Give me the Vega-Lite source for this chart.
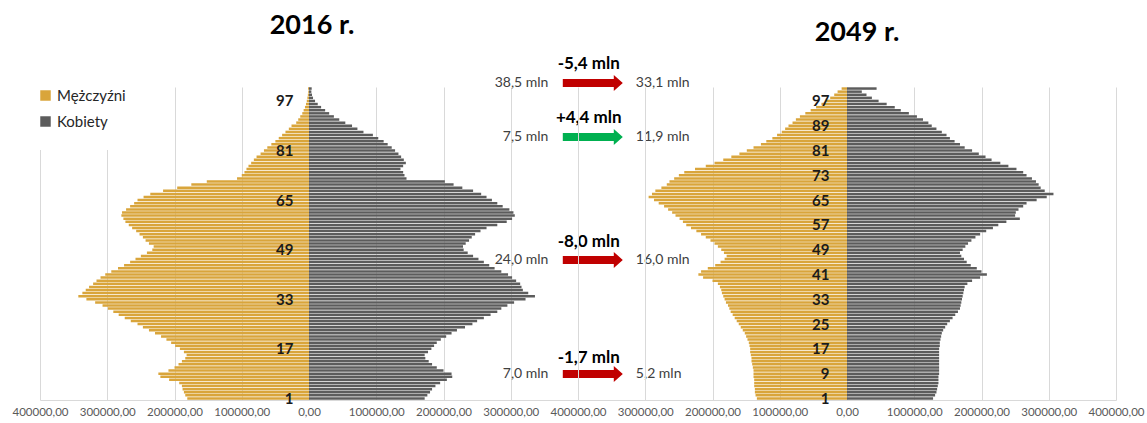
{
  "$schema": "https://vega.github.io/schema/vega-lite/v6.json",
  "padding": {"left": 12, "top": 12, "right": 2, "bottom": 0},
  "background": "white",
  "spacing": 0,
  "bounds": "flush",
  "config": {"view": {"stroke": null}, "font": "Lato"},
  "resolve": {"legend": {"color": "independent"}},
  "datasets": {
    "pyramida": [
      {"rok":"2016 r.","wiek":1,"Mężczyźni":-181000,"Kobiety":172000},
      {"rok":"2016 r.","wiek":2,"Mężczyźni":-184000,"Kobiety":176000},
      {"rok":"2016 r.","wiek":3,"Mężczyźni":-186000,"Kobiety":180000},
      {"rok":"2016 r.","wiek":4,"Mężczyźni":-188000,"Kobiety":183000},
      {"rok":"2016 r.","wiek":5,"Mężczyźni":-189000,"Kobiety":188000},
      {"rok":"2016 r.","wiek":6,"Mężczyźni":-193000,"Kobiety":195000},
      {"rok":"2016 r.","wiek":7,"Mężczyźni":-208000,"Kobiety":205000},
      {"rok":"2016 r.","wiek":8,"Mężczyźni":-221000,"Kobiety":213000},
      {"rok":"2016 r.","wiek":9,"Mężczyźni":-224000,"Kobiety":212000},
      {"rok":"2016 r.","wiek":10,"Mężczyźni":-209000,"Kobiety":200000},
      {"rok":"2016 r.","wiek":11,"Mężczyźni":-200000,"Kobiety":190000},
      {"rok":"2016 r.","wiek":12,"Mężczyźni":-194000,"Kobiety":183000},
      {"rok":"2016 r.","wiek":13,"Mężczyźni":-189000,"Kobiety":178000},
      {"rok":"2016 r.","wiek":14,"Mężczyźni":-184000,"Kobiety":173000},
      {"rok":"2016 r.","wiek":15,"Mężczyźni":-182000,"Kobiety":172000},
      {"rok":"2016 r.","wiek":16,"Mężczyźni":-186000,"Kobiety":177000},
      {"rok":"2016 r.","wiek":17,"Mężczyźni":-192000,"Kobiety":182000},
      {"rok":"2016 r.","wiek":18,"Mężczyźni":-199000,"Kobiety":186000},
      {"rok":"2016 r.","wiek":19,"Mężczyźni":-205000,"Kobiety":190000},
      {"rok":"2016 r.","wiek":20,"Mężczyźni":-212000,"Kobiety":196000},
      {"rok":"2016 r.","wiek":21,"Mężczyźni":-220000,"Kobiety":204000},
      {"rok":"2016 r.","wiek":22,"Mężczyźni":-229000,"Kobiety":212000},
      {"rok":"2016 r.","wiek":23,"Mężczyźni":-238000,"Kobiety":220000},
      {"rok":"2016 r.","wiek":24,"Mężczyźni":-247000,"Kobiety":232000},
      {"rok":"2016 r.","wiek":25,"Mężczyźni":-255000,"Kobiety":243000},
      {"rok":"2016 r.","wiek":26,"Mężczyźni":-265000,"Kobiety":250000},
      {"rok":"2016 r.","wiek":27,"Mężczyźni":-274000,"Kobiety":260000},
      {"rok":"2016 r.","wiek":28,"Mężczyźni":-283000,"Kobiety":270000},
      {"rok":"2016 r.","wiek":29,"Mężczyźni":-291000,"Kobiety":280000},
      {"rok":"2016 r.","wiek":30,"Mężczyźni":-299000,"Kobiety":286000},
      {"rok":"2016 r.","wiek":31,"Mężczyźni":-307000,"Kobiety":295000},
      {"rok":"2016 r.","wiek":32,"Mężczyźni":-318000,"Kobiety":305000},
      {"rok":"2016 r.","wiek":33,"Mężczyźni":-331000,"Kobiety":322000},
      {"rok":"2016 r.","wiek":34,"Mężczyźni":-343000,"Kobiety":336000},
      {"rok":"2016 r.","wiek":35,"Mężczyźni":-337000,"Kobiety":326000},
      {"rok":"2016 r.","wiek":36,"Mężczyźni":-332000,"Kobiety":318000},
      {"rok":"2016 r.","wiek":37,"Mężczyźni":-327000,"Kobiety":316000},
      {"rok":"2016 r.","wiek":38,"Mężczyźni":-321000,"Kobiety":314000},
      {"rok":"2016 r.","wiek":39,"Mężczyźni":-316000,"Kobiety":308000},
      {"rok":"2016 r.","wiek":40,"Mężczyźni":-310000,"Kobiety":302000},
      {"rok":"2016 r.","wiek":41,"Mężczyźni":-303000,"Kobiety":296000},
      {"rok":"2016 r.","wiek":42,"Mężczyźni":-294000,"Kobiety":286000},
      {"rok":"2016 r.","wiek":43,"Mężczyźni":-284000,"Kobiety":276000},
      {"rok":"2016 r.","wiek":44,"Mężczyźni":-275000,"Kobiety":268000},
      {"rok":"2016 r.","wiek":45,"Mężczyźni":-266000,"Kobiety":260000},
      {"rok":"2016 r.","wiek":46,"Mężczyźni":-258000,"Kobiety":252000},
      {"rok":"2016 r.","wiek":47,"Mężczyźni":-250000,"Kobiety":244000},
      {"rok":"2016 r.","wiek":48,"Mężczyźni":-241000,"Kobiety":236000},
      {"rok":"2016 r.","wiek":49,"Mężczyźni":-233000,"Kobiety":230000},
      {"rok":"2016 r.","wiek":50,"Mężczyźni":-231000,"Kobiety":229000},
      {"rok":"2016 r.","wiek":51,"Mężczyźni":-238000,"Kobiety":233000},
      {"rok":"2016 r.","wiek":52,"Mężczyźni":-243000,"Kobiety":238000},
      {"rok":"2016 r.","wiek":53,"Mężczyźni":-247000,"Kobiety":242000},
      {"rok":"2016 r.","wiek":54,"Mężczyźni":-252000,"Kobiety":247000},
      {"rok":"2016 r.","wiek":55,"Mężczyźni":-257000,"Kobiety":255000},
      {"rok":"2016 r.","wiek":56,"Mężczyźni":-263000,"Kobiety":264000},
      {"rok":"2016 r.","wiek":57,"Mężczyźni":-268000,"Kobiety":280000},
      {"rok":"2016 r.","wiek":58,"Mężczyźni":-273000,"Kobiety":294000},
      {"rok":"2016 r.","wiek":59,"Mężczyźni":-276000,"Kobiety":302000},
      {"rok":"2016 r.","wiek":60,"Mężczyźni":-279000,"Kobiety":306000},
      {"rok":"2016 r.","wiek":61,"Mężczyźni":-278000,"Kobiety":304000},
      {"rok":"2016 r.","wiek":62,"Mężczyźni":-272000,"Kobiety":298000},
      {"rok":"2016 r.","wiek":63,"Mężczyźni":-266000,"Kobiety":288000},
      {"rok":"2016 r.","wiek":64,"Mężczyźni":-260000,"Kobiety":280000},
      {"rok":"2016 r.","wiek":65,"Mężczyźni":-255000,"Kobiety":272000},
      {"rok":"2016 r.","wiek":66,"Mężczyźni":-246000,"Kobiety":264000},
      {"rok":"2016 r.","wiek":67,"Mężczyźni":-236000,"Kobiety":256000},
      {"rok":"2016 r.","wiek":68,"Mężczyźni":-217000,"Kobiety":244000},
      {"rok":"2016 r.","wiek":69,"Mężczyźni":-196000,"Kobiety":228000},
      {"rok":"2016 r.","wiek":70,"Mężczyźni":-175000,"Kobiety":215000},
      {"rok":"2016 r.","wiek":71,"Mężczyźni":-152000,"Kobiety":202000},
      {"rok":"2016 r.","wiek":72,"Mężczyźni":-107000,"Kobiety":145000},
      {"rok":"2016 r.","wiek":73,"Mężczyźni":-100000,"Kobiety":142000},
      {"rok":"2016 r.","wiek":74,"Mężczyźni":-96000,"Kobiety":140000},
      {"rok":"2016 r.","wiek":75,"Mężczyźni":-93000,"Kobiety":136000},
      {"rok":"2016 r.","wiek":76,"Mężczyźni":-90000,"Kobiety":140000},
      {"rok":"2016 r.","wiek":77,"Mężczyźni":-86000,"Kobiety":144000},
      {"rok":"2016 r.","wiek":78,"Mężczyźni":-82000,"Kobiety":141000},
      {"rok":"2016 r.","wiek":79,"Mężczyźni":-78000,"Kobiety":137000},
      {"rok":"2016 r.","wiek":80,"Mężczyźni":-72000,"Kobiety":133000},
      {"rok":"2016 r.","wiek":81,"Mężczyźni":-67000,"Kobiety":128000},
      {"rok":"2016 r.","wiek":82,"Mężczyźni":-62000,"Kobiety":123000},
      {"rok":"2016 r.","wiek":83,"Mężczyźni":-56000,"Kobiety":117000},
      {"rok":"2016 r.","wiek":84,"Mężczyźni":-50000,"Kobiety":111000},
      {"rok":"2016 r.","wiek":85,"Mężczyźni":-45000,"Kobiety":103000},
      {"rok":"2016 r.","wiek":86,"Mężczyźni":-40000,"Kobiety":95000},
      {"rok":"2016 r.","wiek":87,"Mężczyźni":-35000,"Kobiety":81000},
      {"rok":"2016 r.","wiek":88,"Mężczyźni":-30000,"Kobiety":72000},
      {"rok":"2016 r.","wiek":89,"Mężczyźni":-26000,"Kobiety":64000},
      {"rok":"2016 r.","wiek":90,"Mężczyźni":-19000,"Kobiety":54000},
      {"rok":"2016 r.","wiek":91,"Mężczyźni":-16000,"Kobiety":45000},
      {"rok":"2016 r.","wiek":92,"Mężczyźni":-13000,"Kobiety":37000},
      {"rok":"2016 r.","wiek":93,"Mężczyźni":-10000,"Kobiety":30000},
      {"rok":"2016 r.","wiek":94,"Mężczyźni":-8000,"Kobiety":24000},
      {"rok":"2016 r.","wiek":95,"Mężczyźni":-6000,"Kobiety":18000},
      {"rok":"2016 r.","wiek":96,"Mężczyźni":-4500,"Kobiety":13000},
      {"rok":"2016 r.","wiek":97,"Mężczyźni":-3300,"Kobiety":9000},
      {"rok":"2016 r.","wiek":98,"Mężczyźni":-2400,"Kobiety":6000},
      {"rok":"2016 r.","wiek":99,"Mężczyźni":-1700,"Kobiety":4500},
      {"rok":"2016 r.","wiek":100,"Mężczyźni":-1100,"Kobiety":3500},
      {"rok":"2016 r.","wiek":101,"Mężczyźni":-1400,"Kobiety":4000},
      {"rok":"2049 r.","wiek":1,"Mężczyźni":-134000,"Kobiety":128000},
      {"rok":"2049 r.","wiek":2,"Mężczyźni":-136000,"Kobiety":131000},
      {"rok":"2049 r.","wiek":3,"Mężczyźni":-137000,"Kobiety":133000},
      {"rok":"2049 r.","wiek":4,"Mężczyźni":-137000,"Kobiety":134000},
      {"rok":"2049 r.","wiek":5,"Mężczyźni":-138000,"Kobiety":135000},
      {"rok":"2049 r.","wiek":6,"Mężczyźni":-138000,"Kobiety":136000},
      {"rok":"2049 r.","wiek":7,"Mężczyźni":-138000,"Kobiety":136000},
      {"rok":"2049 r.","wiek":8,"Mężczyźni":-139000,"Kobiety":136000},
      {"rok":"2049 r.","wiek":9,"Mężczyźni":-139000,"Kobiety":137000},
      {"rok":"2049 r.","wiek":10,"Mężczyźni":-139000,"Kobiety":137000},
      {"rok":"2049 r.","wiek":11,"Mężczyźni":-140000,"Kobiety":137000},
      {"rok":"2049 r.","wiek":12,"Mężczyźni":-141000,"Kobiety":137000},
      {"rok":"2049 r.","wiek":13,"Mężczyźni":-142000,"Kobiety":137000},
      {"rok":"2049 r.","wiek":14,"Mężczyźni":-142000,"Kobiety":137000},
      {"rok":"2049 r.","wiek":15,"Mężczyźni":-143000,"Kobiety":137000},
      {"rok":"2049 r.","wiek":16,"Mężczyźni":-144000,"Kobiety":137000},
      {"rok":"2049 r.","wiek":17,"Mężczyźni":-144000,"Kobiety":137000},
      {"rok":"2049 r.","wiek":18,"Mężczyźni":-145000,"Kobiety":138000},
      {"rok":"2049 r.","wiek":19,"Mężczyźni":-146000,"Kobiety":138000},
      {"rok":"2049 r.","wiek":20,"Mężczyźni":-148000,"Kobiety":139000},
      {"rok":"2049 r.","wiek":21,"Mężczyźni":-150000,"Kobiety":140000},
      {"rok":"2049 r.","wiek":22,"Mężczyźni":-152000,"Kobiety":141000},
      {"rok":"2049 r.","wiek":23,"Mężczyźni":-155000,"Kobiety":143000},
      {"rok":"2049 r.","wiek":24,"Mężczyźni":-158000,"Kobiety":146000},
      {"rok":"2049 r.","wiek":25,"Mężczyźni":-161000,"Kobiety":149000},
      {"rok":"2049 r.","wiek":26,"Mężczyźni":-164000,"Kobiety":153000},
      {"rok":"2049 r.","wiek":27,"Mężczyźni":-167000,"Kobiety":157000},
      {"rok":"2049 r.","wiek":28,"Mężczyźni":-170000,"Kobiety":161000},
      {"rok":"2049 r.","wiek":29,"Mężczyźni":-173000,"Kobiety":165000},
      {"rok":"2049 r.","wiek":30,"Mężczyźni":-175000,"Kobiety":168000},
      {"rok":"2049 r.","wiek":31,"Mężczyźni":-177000,"Kobiety":169000},
      {"rok":"2049 r.","wiek":32,"Mężczyźni":-180000,"Kobiety":170000},
      {"rok":"2049 r.","wiek":33,"Mężczyźni":-182000,"Kobiety":171000},
      {"rok":"2049 r.","wiek":34,"Mężczyźni":-184000,"Kobiety":172000},
      {"rok":"2049 r.","wiek":35,"Mężczyźni":-186000,"Kobiety":173000},
      {"rok":"2049 r.","wiek":36,"Mężczyźni":-187000,"Kobiety":174000},
      {"rok":"2049 r.","wiek":37,"Mężczyźni":-189000,"Kobiety":175000},
      {"rok":"2049 r.","wiek":38,"Mężczyźni":-192000,"Kobiety":179000},
      {"rok":"2049 r.","wiek":39,"Mężczyźni":-200000,"Kobiety":186000},
      {"rok":"2049 r.","wiek":40,"Mężczyźni":-214000,"Kobiety":198000},
      {"rok":"2049 r.","wiek":41,"Mężczyźni":-221000,"Kobiety":208000},
      {"rok":"2049 r.","wiek":42,"Mężczyźni":-217000,"Kobiety":200000},
      {"rok":"2049 r.","wiek":43,"Mężczyźni":-207000,"Kobiety":193000},
      {"rok":"2049 r.","wiek":44,"Mężczyźni":-196000,"Kobiety":184000},
      {"rok":"2049 r.","wiek":45,"Mężczyźni":-188000,"Kobiety":178000},
      {"rok":"2049 r.","wiek":46,"Mężczyźni":-182000,"Kobiety":174000},
      {"rok":"2049 r.","wiek":47,"Mężczyźni":-179000,"Kobiety":170000},
      {"rok":"2049 r.","wiek":48,"Mężczyźni":-183000,"Kobiety":168000},
      {"rok":"2049 r.","wiek":49,"Mężczyźni":-187000,"Kobiety":172000},
      {"rok":"2049 r.","wiek":50,"Mężczyźni":-192000,"Kobiety":176000},
      {"rok":"2049 r.","wiek":51,"Mężczyźni":-197000,"Kobiety":180000},
      {"rok":"2049 r.","wiek":52,"Mężczyźni":-203000,"Kobiety":185000},
      {"rok":"2049 r.","wiek":53,"Mężczyźni":-210000,"Kobiety":191000},
      {"rok":"2049 r.","wiek":54,"Mężczyźni":-217000,"Kobiety":198000},
      {"rok":"2049 r.","wiek":55,"Mężczyźni":-224000,"Kobiety":207000},
      {"rok":"2049 r.","wiek":56,"Mężczyźni":-232000,"Kobiety":217000},
      {"rok":"2049 r.","wiek":57,"Mężczyźni":-239000,"Kobiety":225000},
      {"rok":"2049 r.","wiek":58,"Mężczyźni":-244000,"Kobiety":237000},
      {"rok":"2049 r.","wiek":59,"Mężczyźni":-249000,"Kobiety":257000},
      {"rok":"2049 r.","wiek":60,"Mężczyźni":-255000,"Kobiety":250000},
      {"rok":"2049 r.","wiek":61,"Mężczyźni":-260000,"Kobiety":251000},
      {"rok":"2049 r.","wiek":62,"Mężczyźni":-266000,"Kobiety":255000},
      {"rok":"2049 r.","wiek":63,"Mężczyźni":-272000,"Kobiety":262000},
      {"rok":"2049 r.","wiek":64,"Mężczyźni":-280000,"Kobiety":267000},
      {"rok":"2049 r.","wiek":65,"Mężczyźni":-287000,"Kobiety":282000},
      {"rok":"2049 r.","wiek":66,"Mężczyźni":-295000,"Kobiety":297000},
      {"rok":"2049 r.","wiek":67,"Mężczyźni":-290000,"Kobiety":307000},
      {"rok":"2049 r.","wiek":68,"Mężczyźni":-285000,"Kobiety":294000},
      {"rok":"2049 r.","wiek":69,"Mężczyźni":-276000,"Kobiety":288000},
      {"rok":"2049 r.","wiek":70,"Mężczyźni":-268000,"Kobiety":285000},
      {"rok":"2049 r.","wiek":71,"Mężczyźni":-264000,"Kobiety":281000},
      {"rok":"2049 r.","wiek":72,"Mężczyźni":-257000,"Kobiety":275000},
      {"rok":"2049 r.","wiek":73,"Mężczyźni":-250000,"Kobiety":267000},
      {"rok":"2049 r.","wiek":74,"Mężczyźni":-242000,"Kobiety":262000},
      {"rok":"2049 r.","wiek":75,"Mężczyźni":-226000,"Kobiety":252000},
      {"rok":"2049 r.","wiek":76,"Mężczyźni":-210000,"Kobiety":240000},
      {"rok":"2049 r.","wiek":77,"Mężczyźni":-197000,"Kobiety":228000},
      {"rok":"2049 r.","wiek":78,"Mężczyźni":-184000,"Kobiety":215000},
      {"rok":"2049 r.","wiek":79,"Mężczyźni":-172000,"Kobiety":206000},
      {"rok":"2049 r.","wiek":80,"Mężczyźni":-160000,"Kobiety":196000},
      {"rok":"2049 r.","wiek":81,"Mężczyźni":-149000,"Kobiety":186000},
      {"rok":"2049 r.","wiek":82,"Mężczyźni":-139000,"Kobiety":175000},
      {"rok":"2049 r.","wiek":83,"Mężczyźni":-128000,"Kobiety":168000},
      {"rok":"2049 r.","wiek":84,"Mężczyźni":-120000,"Kobiety":160000},
      {"rok":"2049 r.","wiek":85,"Mężczyźni":-111000,"Kobiety":153000},
      {"rok":"2049 r.","wiek":86,"Mężczyźni":-104000,"Kobiety":148000},
      {"rok":"2049 r.","wiek":87,"Mężczyźni":-97000,"Kobiety":141000},
      {"rok":"2049 r.","wiek":88,"Mężczyźni":-92000,"Kobiety":133000},
      {"rok":"2049 r.","wiek":89,"Mężczyźni":-87000,"Kobiety":126000},
      {"rok":"2049 r.","wiek":90,"Mężczyźni":-81000,"Kobiety":121000},
      {"rok":"2049 r.","wiek":91,"Mężczyźni":-76000,"Kobiety":113000},
      {"rok":"2049 r.","wiek":92,"Mężczyźni":-70000,"Kobiety":104000},
      {"rok":"2049 r.","wiek":93,"Mężczyźni":-62000,"Kobiety":92000},
      {"rok":"2049 r.","wiek":94,"Mężczyźni":-54000,"Kobiety":80000},
      {"rok":"2049 r.","wiek":95,"Mężczyźni":-46000,"Kobiety":71000},
      {"rok":"2049 r.","wiek":96,"Mężczyźni":-38000,"Kobiety":59000},
      {"rok":"2049 r.","wiek":97,"Mężczyźni":-31000,"Kobiety":47000},
      {"rok":"2049 r.","wiek":98,"Mężczyźni":-25000,"Kobiety":37000},
      {"rok":"2049 r.","wiek":99,"Mężczyźni":-19000,"Kobiety":29000},
      {"rok":"2049 r.","wiek":100,"Mężczyźni":-14000,"Kobiety":22000},
      {"rok":"2049 r.","wiek":101,"Mężczyźni":-8000,"Kobiety":44000}
    ],
    "adnotacje": [
      {"zmiana":"-5,4 mln","od":"38,5 mln","do":"33,1 mln","kierunek":"spadek","wiek_zmiany":108.9,"wiek_strzalki":102.8},
      {"zmiana":"+4,4 mln","od":"7,5 mln","do":"11,9 mln","kierunek":"wzrost","wiek_zmiany":91.5,"wiek_strzalki":85.4},
      {"zmiana":"-8,0 mln","od":"24,0 mln","do":"16,0 mln","kierunek":"spadek","wiek_zmiany":51.5,"wiek_strzalki":45.7},
      {"zmiana":"-1,7 mln","od":"7,0 mln","do":"5,2 mln","kierunek":"spadek","wiek_zmiany":14.05,"wiek_strzalki":8.9}
    ]
  },
  "hconcat": [
    {
      "width": 538,
      "height": 313,
      "title": {"text": "2016 r.", "font": "Lato", "fontSize": 27, "fontWeight": "bold", "color": "#000000", "frame": "group", "anchor": "middle", "baseline": "alphabetic", "offset": -6, "dx": 3},
      "layer": [
        {
          "data": {"name": "pyramida"},
          "transform": [
            {"filter": "datum.rok == '2016 r.'"},
            {"fold": ["Mężczyźni", "Kobiety"], "as": ["plec", "liczba"]}
          ],
          "mark": {"type": "bar", "orient": "horizontal", "height": 2.5},
          "encoding": {
            "x": {"field": "liczba", "type": "quantitative", "stack": null, "title": null,
                  "scale": {"domain": [-400000, 400000], "nice": false, "padding": 0},
                  "axis": {"values": [-400000, -300000, -200000, -100000, 0, 100000, 200000, 300000],
                           "labelExpr": "replace(format(abs(datum.value), '.2f'), '.', ',')",
                           "labelFlush": false, "labelOverlap": false,
                           "grid": true, "gridColor": "#D9D9D9", "domainColor": "#D9D9D9", "ticks": false,
                           "labelFont": "Lato", "labelFontSize": 11.5, "labelColor": "#595959", "labelPadding": 6}},
            "y": {"field": "wiek", "type": "quantitative", "title": null,
                  "scale": {"domain": [0.5, 101.5], "nice": false, "zero": false, "padding": 0},
                  "axis": {"orient": "left", "offset": -269, "values": [1, 9, 17, 25, 33, 41, 49, 57, 65, 73, 81, 89, 97],
                           "ticks": false, "domain": false, "grid": false, "zindex": 1, "labelFlush": false, "labelOverlap": false,
                           "labelFont": "Lato", "labelFontWeight": "bold", "labelFontSize": 15, "labelColor": "#1A1A1A", "labelPadding": 16}},
            "color": {"field": "plec", "type": "nominal",
                      "scale": {"domain": ["Mężczyźni", "Kobiety"], "range": ["#D9A53B", "#5C5C5C"]},
                      "legend": {"orient": "none", "legendX": -22, "legendY": -19, "title": null, "symbolType": "square",
                                 "symbolSize": 110, "symbolStrokeWidth": 0, "labelFont": "Lato", "labelFontSize": 15,
                                 "labelColor": "#262626", "rowPadding": 10, "padding": 20, "fillColor": "white", "labelOffset": 4}}
          }
        },
        {
          "data": {"name": "adnotacje"},
          "mark": {"type": "text", "font": "Lato", "fontSize": 17, "fontWeight": "bold", "align": "center", "baseline": "middle", "color": "#000000"},
          "encoding": {
            "x": {"datum": 416000, "type": "quantitative"},
            "y": {"field": "wiek_zmiany", "type": "quantitative", "title": null},
            "text": {"field": "zmiana"}
          }
        },
        {
          "data": {"name": "adnotacje"},
          "mark": {"type": "point", "shape": "M-1,-0.133L0.7,-0.133L0.7,-0.267L1,0L0.7,0.267L0.7,0.133L-1,0.133Z", "size": 3600, "filled": true, "opacity": 1, "strokeWidth": 0},
          "encoding": {
            "x": {"datum": 422000, "type": "quantitative"},
            "y": {"field": "wiek_strzalki", "type": "quantitative", "title": null},
            "color": {"condition": {"test": "datum.kierunek == 'wzrost'", "value": "#00B050"}, "value": "#C00000"}
          }
        },
        {
          "data": {"name": "adnotacje"},
          "mark": {"type": "text", "font": "Lato", "fontSize": 14, "align": "right", "baseline": "middle", "color": "#404040"},
          "encoding": {
            "x": {"datum": 356000, "type": "quantitative"},
            "y": {"field": "wiek_strzalki", "type": "quantitative", "title": null},
            "text": {"field": "od"}
          }
        },
        {
          "data": {"name": "adnotacje"},
          "mark": {"type": "text", "font": "Lato", "fontSize": 14, "align": "left", "baseline": "middle", "color": "#404040"},
          "encoding": {
            "x": {"datum": 486000, "type": "quantitative"},
            "y": {"field": "wiek_strzalki", "type": "quantitative", "title": null},
            "text": {"field": "do"}
          }
        }
      ]
    },
    {
      "width": 538,
      "height": 313,
      "title": {"text": "2049 r.", "font": "Lato", "fontSize": 27, "fontWeight": "bold", "color": "#000000", "frame": "group", "anchor": "middle", "baseline": "alphabetic", "offset": 19, "dx": 10},
      "data": {"name": "pyramida"},
      "transform": [
        {"filter": "datum.rok == '2049 r.'"},
        {"fold": ["Mężczyźni", "Kobiety"], "as": ["plec", "liczba"]}
      ],
      "mark": {"type": "bar", "orient": "horizontal", "height": 2.5},
      "encoding": {
        "x": {"field": "liczba", "type": "quantitative", "stack": null, "title": null,
              "scale": {"domain": [-400000, 400000], "nice": false, "padding": 0},
              "axis": {"values": [-400000, -300000, -200000, -100000, 0, 100000, 200000, 300000, 400000],
                       "labelExpr": "replace(format(abs(datum.value), '.2f'), '.', ',')",
                       "labelFlush": false, "labelOverlap": false,
                       "grid": true, "gridColor": "#D9D9D9", "domainColor": "#D9D9D9", "ticks": false,
                       "labelFont": "Lato", "labelFontSize": 11.5, "labelColor": "#595959", "labelPadding": 6}},
        "y": {"field": "wiek", "type": "quantitative", "title": null,
              "scale": {"domain": [0.5, 101.5], "nice": false, "zero": false, "padding": 0},
              "axis": {"orient": "left", "offset": -269, "values": [1, 9, 17, 25, 33, 41, 49, 57, 65, 73, 81, 89, 97],
                       "ticks": false, "domain": false, "grid": false, "zindex": 1, "labelFlush": false, "labelOverlap": false,
                       "labelFont": "Lato", "labelFontWeight": "bold", "labelFontSize": 15, "labelColor": "#1A1A1A", "labelPadding": 18}},
        "color": {"field": "plec", "type": "nominal",
                  "scale": {"domain": ["Mężczyźni", "Kobiety"], "range": ["#D9A53B", "#5C5C5C"]},
                  "legend": null}
      }
    }
  ]
}
